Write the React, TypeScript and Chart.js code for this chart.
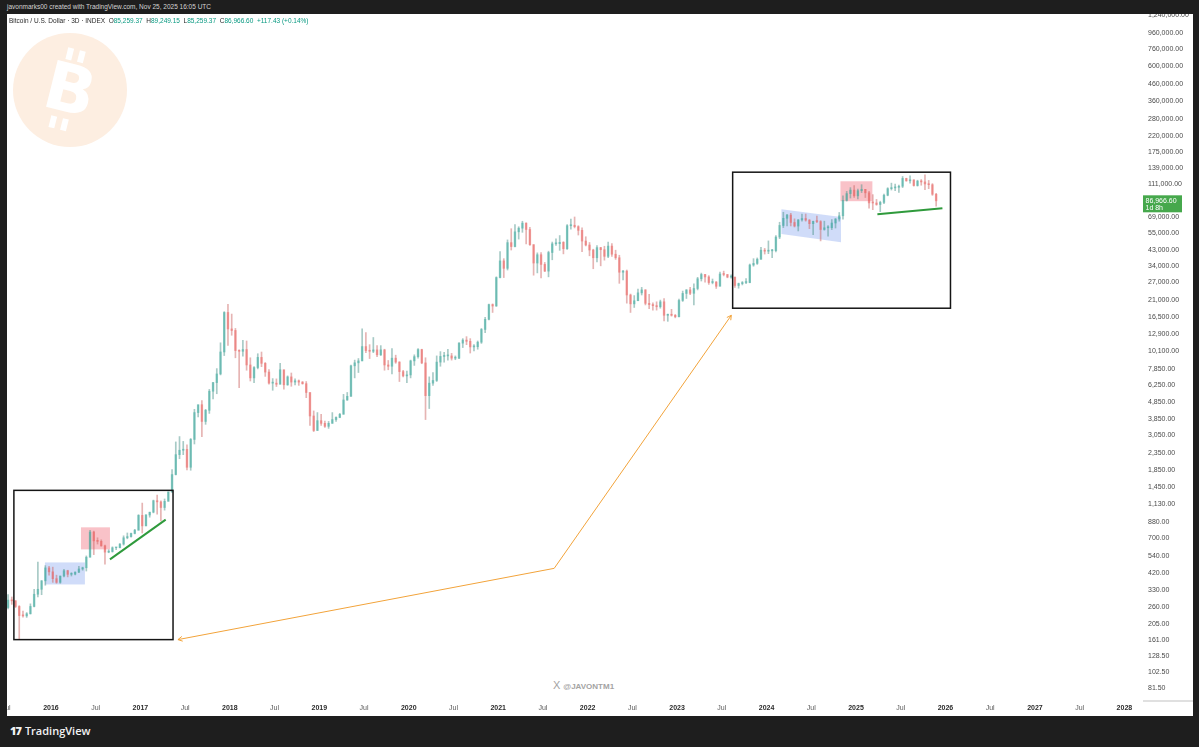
import React, { useEffect, useRef } from "react";
import { Chart, registerables } from "chart.js";

Chart.register(...registerables);

const FONT = '"Liberation Sans", Arial, Helvetica, sans-serif';

// Half-month candles starting 1 Jul 2015 (BTC / USD, log scale)
const START_YEAR = 2015.5;
const PERIODS_PER_YEAR = 24;
const FIRST_OPEN = 258;

const highs = [
  // 2015 Jul–Dec
  310, 300, 285, 265, 245, 240, 272, 335, 495, 380, 470, 465,
  // 2016
  460, 410, 405, 445, 440, 425, 430, 465, 460, 540, 780, 770,
  700, 680, 630, 590, 615, 610, 645, 720, 750, 750, 790, 975,
  // 2017
  1150, 975, 1010, 1200, 1290, 1190, 1220, 1350, 1860, 2760, 2980, 2780,
  2650, 2900, 4400, 4700, 4980, 4400, 5850, 6470, 7880, 11400, 17800, 19800,
  // 2018
  17200, 14000, 10300, 11800, 11700, 9200, 8100, 9750, 9990, 8600, 7780, 6830,
  6800, 8500, 7750, 7100, 7400, 6800, 6700, 6550, 6550, 5600, 4300, 4200,
  // 2019
  4100, 3720, 3700, 4200, 3950, 4150, 5450, 5600, 8300, 8900, 9100, 13900,
  13200, 11100, 12300, 10950, 10950, 10400, 8850, 10500, 9550, 8700, 7700, 7600,
  // 2020
  8900, 9600, 10500, 10400, 9200, 7000, 7450, 9450, 10050, 9950, 10400, 9800,
  9450, 11450, 12100, 12450, 12100, 11100, 11700, 14000, 16400, 19850, 19900, 29300,
  // 2021
  42000, 38000, 49700, 58350, 61800, 60000, 64900, 63500, 59500, 46500, 41300, 41400,
  36000, 42300, 48200, 50500, 52900, 48500, 62000, 67000, 69000, 60900, 59100, 52000,
  // 2022
  47900, 43500, 45800, 44700, 45400, 48200, 47200, 42900, 39900, 32200, 32300, 22900,
  22400, 24600, 25200, 24400, 22800, 20200, 20500, 21000, 21500, 17200, 18400, 17100,
  // 2023
  21300, 23900, 24400, 25200, 26500, 29100, 30900, 30400, 29800, 28400, 27400, 31400,
  31800, 30300, 30200, 29200, 26800, 27400, 28600, 35200, 38000, 38400, 44700, 44000,
  // 2024
  49000, 43500, 52800, 64000, 73800, 71600, 72700, 67200, 66500, 71900, 72000, 66500,
  65000, 70000, 65500, 65000, 61000, 66500, 67500, 73600, 93400, 99500, 105000, 108300,
  // 2025 Jan–Nov
  102700, 109500, 102500, 99500, 95000, 88700, 86500, 95700, 104900, 112000, 110600, 108900,
  123200, 120200, 124500, 117600, 116800, 117900, 126200, 116400, 111200, 96800,
];

const lows = [
  // 2015 Jul–Dec
  253, 270, 258, 165, 225, 224, 235, 260, 300, 310, 355, 410,
  // 2016
  370, 365, 365, 400, 400, 405, 412, 425, 440, 435, 530, 550,
  640, 620, 480, 565, 570, 590, 605, 630, 690, 705, 740, 780,
  // 2017
  750, 830, 940, 1000, 980, 890, 1040, 1180, 1340, 1720, 2170, 2300,
  1850, 1840, 2680, 3950, 2980, 3550, 4150, 5100, 5500, 7200, 9500, 11000,
  // 2018
  12700, 9200, 6000, 9400, 7700, 6600, 6450, 7850, 8100, 7050, 6300, 5780,
  6100, 6300, 5880, 6200, 6120, 6250, 6200, 6300, 5200, 3500, 3200, 3250,
  // 2019
  3500, 3400, 3350, 3600, 3700, 3900, 4100, 5000, 5300, 6900, 7450, 8800,
  9900, 9100, 9900, 9350, 9500, 7700, 7750, 7300, 8500, 6550, 7000, 6450,
  // 2020
  6900, 8250, 9150, 8450, 3800, 4450, 6200, 6550, 8150, 8650, 8900, 8900,
  8950, 9100, 10650, 11100, 9850, 10150, 10400, 11300, 13200, 15800, 17600, 19200,
  // 2021
  28800, 29000, 32300, 43000, 44900, 50300, 55400, 47000, 46000, 30000, 31000, 28800,
  31600, 29300, 37400, 46000, 42800, 40700, 43300, 58000, 59000, 53300, 42000, 45600,
  // 2022
  39600, 32900, 36300, 34300, 37200, 38600, 39300, 37600, 26700, 28000, 20100, 17600,
  18900, 20800, 22600, 19600, 18600, 18200, 18200, 18700, 15600, 15500, 16700, 16300,
  // 2023
  16500, 20600, 21500, 22700, 19600, 24300, 27600, 27100, 26300, 26500, 24800, 25600,
  29700, 28900, 28700, 25200, 24900, 26100, 26600, 26900, 34100, 35000, 37600, 40600,
  // 2024
  40800, 38500, 41900, 50600, 59300, 60800, 60700, 59800, 56500, 65000, 65000, 58400,
  53500, 63500, 49000, 57100, 52500, 57600, 58900, 65000, 66800, 86600, 90500, 91300,
  // 2025 Jan–Nov
  89200, 97800, 91200, 78200, 76600, 81600, 74500, 83500, 93400, 101500, 100400, 98200,
  105100, 115000, 112000, 107300, 107300, 108700, 102000, 103500, 94000, 80600,
];

const closes = [
  // 2015 Jul–Dec
  287, 284, 262, 230, 229, 236, 262, 312, 335, 378, 455, 430,
  // 2016
  390, 370, 405, 437, 415, 416, 428, 448, 456, 530, 760, 670,
  665, 624, 570, 575, 607, 608, 640, 700, 712, 745, 780, 965,
  // 2017
  830, 970, 1010, 1190, 1170, 1080, 1180, 1350, 1730, 2300, 2450, 2480,
  1920, 2860, 4200, 4700, 3700, 4340, 5700, 6450, 7300, 10000, 17600, 13900,
  // 2018
  13600, 10200, 10100, 10350, 8300, 6900, 8000, 9250, 8500, 7500, 6400, 6400,
  6300, 7750, 6250, 7000, 6500, 6620, 6500, 6350, 5600, 4000, 3250, 3740,
  // 2019
  3600, 3450, 3600, 3800, 3920, 4100, 5030, 5300, 8200, 8560, 8800, 10800,
  10200, 10100, 10300, 9600, 10300, 8300, 8150, 9150, 8650, 7550, 7100, 7200,
  // 2020
  8800, 9350, 10350, 8550, 5350, 6400, 6650, 8650, 9380, 9450, 9450, 9150,
  9150, 11350, 11850, 11650, 10750, 10780, 11500, 13800, 15950, 19700, 19300, 29000,
  // 2021
  36800, 33100, 47800, 45200, 55800, 58800, 63200, 57700, 46400, 35700, 40200, 35000,
  31800, 41500, 47000, 47100, 48000, 43800, 60900, 61300, 60100, 57000, 48900, 46200,
  // 2022
  43000, 38500, 44500, 43200, 39300, 45500, 40500, 38500, 31300, 31800, 22600, 19900,
  20800, 23300, 24300, 20050, 19700, 19400, 19100, 20500, 16900, 17150, 16900, 16550,
  // 2023
  20900, 23100, 24300, 23150, 24800, 28500, 30300, 29250, 27000, 27200, 25600, 30500,
  30300, 29200, 29200, 25900, 26600, 27000, 27000, 34700, 35500, 37700, 42900, 42300,
  // 2024
  42500, 42600, 51800, 61100, 67700, 70900, 63800, 60600, 66200, 67500, 66000, 62700,
  64800, 64600, 57700, 59100, 59200, 63300, 67000, 70200, 87500, 96400, 101400, 93400,
  // 2025 Jan–Nov
  100500, 102400, 97500, 84400, 84300, 82500, 85000, 94200, 103500, 104600, 105500, 107100,
  119800, 115800, 117300, 108200, 115300, 114000, 110700, 109500, 95500, 86966.6,
];

const priceTicks = [
  1240000, 960000, 760000, 600000, 460000, 360000, 280000, 220000, 175000, 139000, 111000,
  69000, 55000, 43000, 34000, 27000, 21000, 16500, 12900, 10100, 7850, 6250, 4850, 3850,
  3050, 2350, 1850, 1450, 1130, 880, 700, 540, 420, 330, 260, 205, 161, 128.5, 102.5, 81.5,
];

const timeTicks = [
  2015.5, 2016, 2016.5, 2017, 2017.5, 2018, 2018.5, 2019, 2019.5, 2020, 2020.5, 2021, 2021.5,
  2022, 2022.5, 2023, 2023.5, 2024, 2024.5, 2025, 2025.5, 2026, 2026.5, 2027, 2027.5, 2028,
];
const timeTickLabels = [
  "Jul", "2016", "Jul", "2017", "Jul", "2018", "Jul", "2019", "Jul", "2020", "Jul", "2021", "Jul",
  "2022", "Jul", "2023", "Jul", "2024", "Jul", "2025", "Jul", "2026", "Jul", "2027", "Jul", "2028",
];

const X_MIN = 2015.509;
const X_MAX = 2028.197;
const Y_MIN = 68.7;
const Y_MAX = 1260000;

// Drawings: [yearStart, yearEnd, priceLow, priceHigh]
const frameLeft = [2015.586, 2017.365, 163, 1380];
const frameRight = [2023.621, 2026.056, 18700, 131000];
const blueLeft = [2015.933, 2016.38, 359, 492];
const redLeft = [2016.336, 2016.66, 593, 813];
const redRight = [2024.826, 2025.183, 86500, 115000];
// polygon points [year, price]
const blueRight = [[2024.166, 77200], [2024.832, 68900], [2024.832, 48100], [2024.166, 54000]];
const greenLeft = [[2016.66, 514], [2017.283, 908]];
const greenRight = [[2025.239, 71800], [2025.966, 78300]];
const orangePath = [[2017.42, 163], [2021.626, 452], [2023.606, 16900]];

const UP_BODY = "rgba(38,166,154,0.45)";
const DOWN_BODY = "rgba(239,83,80,0.45)";
const UP_WICK = "rgba(80,150,142,0.5)";
const DOWN_WICK = "rgba(205,105,103,0.5)";

const fmtPrice = (v: number) =>
  Number(v).toLocaleString("en-US", { minimumFractionDigits: 2, maximumFractionDigits: 2 });

const zeroPadding = (s: any) => {
  s.paddingLeft = 0;
  s.paddingRight = 0;
  s.paddingTop = 0;
  s.paddingBottom = 0;
};

const annotationPlugin = {
  id: "tvDrawings",
  beforeDatasetsDraw(chart: any) {
    const { ctx, scales, chartArea } = chart;
    const px = (v: number) => scales.x.getPixelForValue(v);
    const py = (v: number) => scales.y.getPixelForValue(v);
    ctx.save();
    ctx.beginPath();
    ctx.rect(chartArea.left, chartArea.top, chartArea.right - chartArea.left, chartArea.bottom - chartArea.top);
    ctx.clip();
    const fillRect = (r: number[], color: string) => {
      ctx.fillStyle = color;
      const x0 = px(r[0]), x1 = px(r[1]), y0 = py(r[3]), y1 = py(r[2]);
      ctx.fillRect(x0, y0, x1 - x0, y1 - y0);
    };
    fillRect(blueLeft, "rgba(110,145,235,0.32)");
    fillRect(redLeft, "rgba(240,95,110,0.38)");
    fillRect(redRight, "rgba(240,95,110,0.38)");
    ctx.fillStyle = "rgba(110,145,235,0.32)";
    ctx.beginPath();
    blueRight.forEach((p, i) => (i === 0 ? ctx.moveTo(px(p[0]), py(p[1])) : ctx.lineTo(px(p[0]), py(p[1]))));
    ctx.closePath();
    ctx.fill();
    ctx.restore();
  },
  afterDatasetsDraw(chart: any) {
    const { ctx, scales } = chart;
    const px = (v: number) => scales.x.getPixelForValue(v);
    const py = (v: number) => scales.y.getPixelForValue(v);
    ctx.save();
    // orange path with arrowheads
    ctx.strokeStyle = "#f2a33a";
    ctx.lineWidth = 1;
    ctx.beginPath();
    orangePath.forEach((p, i) => (i === 0 ? ctx.moveTo(px(p[0]), py(p[1])) : ctx.lineTo(px(p[0]), py(p[1]))));
    ctx.stroke();
    const arrow = (tip: number[], from: number[]) => {
      const tx = px(tip[0]), ty = py(tip[1]);
      const fx = px(from[0]), fy = py(from[1]);
      const a = Math.atan2(ty - fy, tx - fx);
      const len = 5;
      ctx.beginPath();
      ctx.moveTo(tx - len * Math.cos(a - 0.5), ty - len * Math.sin(a - 0.5));
      ctx.lineTo(tx, ty);
      ctx.lineTo(tx - len * Math.cos(a + 0.5), ty - len * Math.sin(a + 0.5));
      ctx.stroke();
    };
    arrow(orangePath[0], orangePath[1]);
    arrow(orangePath[2], orangePath[1]);
    // frames
    ctx.strokeStyle = "#151515";
    ctx.lineWidth = 1.5;
    [frameLeft, frameRight].forEach((r) => {
      const x0 = px(r[0]), x1 = px(r[1]), y0 = py(r[3]), y1 = py(r[2]);
      ctx.strokeRect(x0, y0, x1 - x0, y1 - y0);
    });
    // green trend lines
    ctx.strokeStyle = "#2f9a3c";
    ctx.lineWidth = 2;
    [greenLeft, greenRight].forEach((l) => {
      ctx.beginPath();
      ctx.moveTo(px(l[0][0]), py(l[0][1]));
      ctx.lineTo(px(l[1][0]), py(l[1][1]));
      ctx.stroke();
    });
    ctx.restore();
  },
  afterDraw(chart: any) {
    const { ctx, scales, chartArea, width } = chart;
    ctx.save();
    // corner separator under price scale
    ctx.strokeStyle = "#d6d6d6";
    ctx.lineWidth = 1.5;
    ctx.beginPath();
    ctx.moveTo(chartArea.right + 1, chartArea.bottom + 1);
    ctx.lineTo(width, chartArea.bottom + 1);
    ctx.stroke();
    // last price label
    const last = closes[closes.length - 1];
    const y = scales.y.getPixelForValue(last);
    const x0 = chartArea.right + 1;
    ctx.fillStyle = "#46a84c";
    ctx.fillRect(x0, y - 5.5, 39, 17);
    ctx.fillStyle = "#ffffff";
    ctx.font = `7px ${FONT}`;
    ctx.textBaseline = "middle";
    ctx.textAlign = "left";
    ctx.fillText(fmtPrice(last), x0 + 2.5, y);
    ctx.fillText("1d 8h", x0 + 2.5, y + 7.5);
    ctx.restore();
  },
};

export default function App() {
  const ref = useRef<HTMLCanvasElement>(null);

  useEffect(() => {
    const canvas = ref.current;
    if (!canvas) return;
    const opens = closes.map((_, i) => (i === 0 ? FIRST_OPEN : closes[i - 1]));
    const xs = closes.map((_, i) => START_YEAR + (i + 0.5) / PERIODS_PER_YEAR);
    const up = closes.map((c, i) => c >= opens[i]);

    const chart = new Chart(canvas, {
      type: "bar",
      data: {
        datasets: [
          {
            label: "wicks",
            data: xs.map((x, i) => ({ x, y: [lows[i], highs[i]] })) as any,
            backgroundColor: up.map((u) => (u ? UP_WICK : DOWN_WICK)),
            borderWidth: 0,
            barThickness: 1,
            grouped: false,
            order: 2,
          } as any,
          {
            label: "bodies",
            data: xs.map((x, i) => ({ x, y: [opens[i], closes[i]] })) as any,
            backgroundColor: up.map((u) => (u ? UP_BODY : DOWN_BODY)),
            borderWidth: 0,
            barThickness: 1.8,
            minBarLength: 1,
            grouped: false,
            order: 1,
          } as any,
        ],
      },
      options: {
        animation: false,
        responsive: false,
        maintainAspectRatio: false,
        events: [],
        layout: { padding: 0 },
        plugins: { legend: { display: false }, tooltip: { enabled: false } },
        scales: {
          x: {
            type: "linear",
            min: X_MIN,
            max: X_MAX,
            offset: false,
            grid: { display: false, drawTicks: false, offset: false },
            border: { display: false },
            afterBuildTicks: (s: any) => {
              s.ticks = timeTicks.map((v) => ({ value: v }));
            },
            afterFit: (s: any) => {
              s.height = 16;
              zeroPadding(s);
            },
            ticks: {
              autoSkip: false,
              maxRotation: 0,
              minRotation: 0,
              padding: 4,
              callback: (_v: any, i: number) => timeTickLabels[i],
              color: (c: any) => (timeTickLabels[c.index] === "Jul" ? "#5a5a5a" : "#2a2a2a"),
              font: (c: any) => ({
                family: FONT,
                size: 7,
                weight: timeTickLabels[c.index] === "Jul" ? "normal" : "bold",
              }),
            },
          } as any,
          y: {
            type: "logarithmic",
            position: "right",
            min: Y_MIN,
            max: Y_MAX,
            grid: { display: false, drawTicks: false },
            border: { display: false },
            afterBuildTicks: (s: any) => {
              s.ticks = priceTicks.map((v) => ({ value: v }));
            },
            afterFit: (s: any) => {
              s.width = 51;
              zeroPadding(s);
            },
            ticks: {
              autoSkip: false,
              padding: 6,
              callback: (v: any) => fmtPrice(Number(v)),
              color: "#4a4a4a",
              font: { family: FONT, size: 7 },
            },
          } as any,
        },
      },
      plugins: [annotationPlugin as any],
    });
    return () => chart.destroy();
  }, []);

  const green = "#089981";
  const dark = "#2a2a2a";

  return (
    <div
      style={{
        position: "fixed",
        left: 0,
        top: 0,
        width: 1199,
        height: 747,
        background: "#1e1e1e",
        overflow: "hidden",
        fontFamily: FONT,
      }}
    >
      <div
        style={{
          position: "absolute",
          left: 7,
          top: 3,
          fontSize: 6.5,
          lineHeight: "8px",
          color: "#d4d4d4",
          whiteSpace: "nowrap",
        }}
      >
        javonmarks00 created with TradingView.com, Nov 25, 2025 16:05 UTC
      </div>

      <div
        style={{
          position: "absolute",
          left: 7,
          top: 14,
          width: 1186,
          height: 702,
          background: "#ffffff",
          overflow: "hidden",
        }}
      >
        {/* Bitcoin logo watermark */}
        <div
          style={{
            position: "absolute",
            left: 6,
            top: 19,
            width: 114,
            height: 114,
            borderRadius: "50%",
            background: "#fdeee1",
          }}
        >
          <div
            style={{
              position: "absolute",
              left: 0,
              top: 0,
              width: 114,
              height: 114,
              transform: "rotate(14deg)",
            }}
          >
            <div
              style={{
                position: "absolute",
                left: 0,
                width: 114,
                top: 24,
                textAlign: "center",
                fontSize: 66,
                lineHeight: "66px",
                fontWeight: 900,
                color: "#ffffff",
                fontFamily: '"DejaVu Sans", sans-serif',
              }}
            >
              B
            </div>
            <div style={{ position: "absolute", left: 45, top: 16, width: 6, height: 12, background: "#fff" }} />
            <div style={{ position: "absolute", left: 57, top: 16, width: 6, height: 12, background: "#fff" }} />
            <div style={{ position: "absolute", left: 45, top: 86, width: 6, height: 12, background: "#fff" }} />
            <div style={{ position: "absolute", left: 57, top: 86, width: 6, height: 12, background: "#fff" }} />
          </div>
        </div>

        {/* author watermark */}
        <div
          style={{
            position: "absolute",
            left: 546,
            top: 666,
            fontSize: 8,
            lineHeight: "10px",
            color: "#a3a3a3",
            fontWeight: 700,
            whiteSpace: "nowrap",
          }}
        >
          <span style={{ fontSize: 11, fontWeight: 300, marginRight: 3 }}>X</span>@JAVONTM1
        </div>

        <canvas
          ref={ref}
          width={1186}
          height={702}
          style={{ position: "absolute", left: 0, top: 0, width: 1186, height: 702 }}
        />

        {/* legend */}
        <div
          style={{
            position: "absolute",
            left: 2,
            top: 3,
            fontSize: 6.5,
            lineHeight: "8px",
            color: dark,
            whiteSpace: "nowrap",
          }}
        >
          Bitcoin / U.S. Dollar · 3D · INDEX&nbsp;&nbsp;O<span style={{ color: green }}>85,259.37</span>
          &nbsp;&nbsp;H<span style={{ color: green }}>89,249.15</span>
          &nbsp;&nbsp;L<span style={{ color: green }}>85,259.37</span>
          &nbsp;&nbsp;C<span style={{ color: green }}>86,966.60</span>
          &nbsp;&nbsp;<span style={{ color: green }}>+117.43 (+0.14%)</span>
        </div>
      </div>

      {/* footer */}
      <div
        style={{
          position: "absolute",
          left: 10,
          top: 724,
          color: "#f2f2f2",
          fontSize: 11,
          lineHeight: "14px",
          fontWeight: 600,
          whiteSpace: "nowrap",
          fontFamily: '"Open Sans", "Liberation Sans", sans-serif',
        }}
      >
        <span style={{ fontWeight: 800, marginRight: 4, letterSpacing: -1 }}>17</span>TradingView
      </div>
    </div>
  );
}
